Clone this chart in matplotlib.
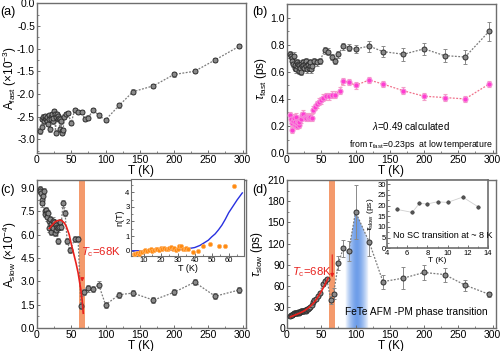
import numpy as np
import matplotlib
matplotlib.use("Agg")
import matplotlib.pyplot as plt
from matplotlib.ticker import AutoMinorLocator, MultipleLocator, FormatStrFormatter
from matplotlib.patches import Polygon

plt.rcParams['font.family'] = ['Liberation Sans', 'DejaVu Sans']
plt.rcParams['mathtext.fontset'] = 'custom'
plt.rcParams['mathtext.rm'] = 'Liberation Sans'
plt.rcParams['mathtext.it'] = 'Liberation Sans:italic'
plt.rcParams['axes.unicode_minus'] = False
plt.rcParams['font.size'] = 7

# ---- (a) fast amplitude
T_a = [5, 7, 8, 9, 10, 11, 12, 13, 14, 15, 16, 17, 18, 19, 20, 21, 22, 23, 24, 25,
       26, 27, 28, 29, 30, 31, 32, 33, 34, 35, 36, 37, 38, 40, 42, 45,
       50, 55, 60, 65, 70, 75, 82, 90, 100, 120, 140, 170, 200, 230, 260, 295]
A_fast = [-2.82, -2.72, -2.55, -2.50, -2.60, -2.52, -2.48, -2.55, -2.60, -2.50,
          -2.65, -2.47, -2.55, -2.78, -2.50, -2.55, -2.45, -2.60, -2.52, -2.38,
          -2.45, -2.85, -2.50, -2.45, -2.55, -2.48, -2.52, -2.78, -2.55, -2.60,
          -2.82, -2.85, -2.80, -2.50, -2.45, -2.42,
          -2.63, -2.35, -2.40, -2.40, -2.55, -2.52, -2.35, -2.47,
          -2.57, -2.25, -1.95, -1.82, -1.57, -1.50, -1.25, -0.95]
A_fast_err = [0.05] * 44 + [0.04, 0.05, 0.05, 0.05, 0.05, 0.04, 0.04, 0.04]

# ---- (b) fast relaxation time
T_b = [5, 6, 7, 8, 9, 10, 11, 12, 13, 14, 15, 16, 17, 18, 19, 20, 21, 22, 23, 24,
       25, 26, 27, 28, 29, 30, 31, 32, 33, 34, 35, 36, 40, 44, 48,
       55, 60, 65, 70, 75, 82, 90, 100, 120, 140, 170, 200, 230, 260, 295]
tau_fast = [0.73, 0.72, 0.70, 0.68, 0.66, 0.72, 0.63, 0.65, 0.62, 0.67,
            0.64, 0.66, 0.61, 0.65, 0.63, 0.66, 0.60, 0.64, 0.67, 0.65,
            0.63, 0.66, 0.64, 0.68, 0.62, 0.66, 0.65, 0.63, 0.64, 0.67,
            0.62, 0.64, 0.68, 0.67, 0.68,
            0.76, 0.75, 0.71, 0.68, 0.73, 0.79, 0.78,
            0.77, 0.79, 0.75, 0.73, 0.77, 0.72, 0.71, 0.90]
tau_fast_err = [0.025] * 42 + [0.03, 0.04, 0.04, 0.05, 0.045, 0.05, 0.05, 0.07]

T_m = [5, 6, 7, 8, 9, 10, 11, 12, 13, 14, 15, 16, 17, 18,
       20, 22, 24, 26, 28, 30, 32, 34, 36,
       38, 41, 44, 47, 50, 53, 57, 61, 65, 70, 77,
       82, 90, 100, 120, 140, 170, 200, 230, 260, 295]
tau_calc = [0.28, 0.25, 0.22, 0.17, 0.24, 0.26, 0.21, 0.23, 0.27, 0.20, 0.22, 0.24, 0.21, 0.23,
            0.25, 0.28, 0.29, 0.27, 0.26, 0.27, 0.26, 0.27, 0.26,
            0.32, 0.34, 0.36, 0.38, 0.39, 0.41, 0.42, 0.42, 0.43, 0.43, 0.46,
            0.53, 0.525, 0.50, 0.54, 0.51, 0.46, 0.42, 0.41, 0.40, 0.51]
tau_calc_err = [0.025] * 44

# ---- (c) slow amplitude
T_c = [4, 5, 6, 7, 8, 9, 10, 11, 12, 13, 14, 15, 16, 17, 18, 19, 20, 21, 22, 23,
       24, 25, 26, 27, 28, 29, 30, 31, 32, 33, 35, 38, 41, 44, 48, 55, 60,
       64, 68, 75, 82, 90, 100, 120, 140, 170, 200, 230, 260, 295]
A_slow = [8.9, 8.8, 8.7, 8.2, 8.0, 8.5, 8.8, 7.5, 7.3, 7.6, 7.4, 7.1, 7.4, 6.9, 6.4,
          7.0, 6.7, 6.2, 6.5, 6.9, 6.4, 6.8, 6.1, 6.6, 6.3, 6.5, 5.6, 6.4, 6.5, 6.8,
          6.5, 8.0, 7.4, 5.6, 5.0, 5.7, 5.7,
          1.4, 2.3, 2.55, 2.5, 2.8, 1.5, 2.15, 2.25, 1.8, 2.3, 2.95, 2.05, 2.45]
A_slow_err = [0.2] * 50

fit_c_T = [18, 22, 26, 30, 35, 40, 43, 47, 50, 54, 57, 60, 62, 64, 66, 67.5]
fit_c_A = [6.4, 6.6, 6.8, 6.9, 6.93, 6.75, 6.5, 6.0, 5.4, 4.7, 4.16, 3.55, 3.0, 2.45, 1.75, 0.96]

# inset (c): n(T)
T_n = [4, 5, 6, 7, 8, 9, 10, 11, 12, 13, 14, 15, 16, 17, 18, 19, 20, 21, 22, 23,
       24, 25, 26, 27, 28, 29, 30, 31, 32, 33, 34, 35, 36, 39, 42, 45, 49, 54, 58, 63]
n_T = [-0.2, -0.2, -0.15, -0.2, -0.1, -0.1, 0.0, 0.05, 0.0, 0.05, 0.1, 0.0, 0.05, 0.1,
       0.15, 0.05, 0.2, 0.1, 0.2, 0.1, 0.15, 0.2, 0.25, 0.1, 0.2, 0.05, 0.15, 0.3, 0.35,
       0.15, 0.15, 0.2, 0.1, -0.1, -0.05, 0.3, 0.45, 0.3, 0.3, 4.45]
fit_n_T = [3, 10, 20, 30, 35, 40, 43, 45, 48, 50, 52, 54, 56, 58, 60, 62, 65, 68]
fit_n = [0.0, 0.0, 0.02, 0.06, 0.12, 0.22, 0.36, 0.5, 0.72, 0.95, 1.15, 1.43, 1.75,
         2.15, 2.6, 2.95, 3.48, 3.95]

# ---- (d) slow relaxation time
T_d = [5, 6, 7, 8, 9, 10, 11, 12, 13, 14, 15, 16, 17, 18, 19, 20, 21, 22, 23, 24,
       25, 26, 27, 28, 29, 30, 32, 34, 36, 38, 40, 42, 45, 48, 52, 55, 58,
       64, 68, 75, 82, 90, 100, 120, 140, 170, 200, 230, 260, 295]
tau_slow = [17, 18, 19, 19, 20, 21, 21, 22, 21, 22, 22, 23, 22, 23, 23, 24, 24, 24, 25, 25,
            24, 26, 25, 26, 27, 27, 28, 30, 33, 37, 40, 42, 46, 50, 63, 67, 70,
            40, 49, 92, 113, 109, 165, 122, 66, 71, 79, 76, 61, 48]
tau_slow_err = [1.5] * 37 + [6, 8, 10, 12, 14, 38, 20, 10, 16, 10, 10, 8, 4]

fit_d_T = [5, 10, 15, 20, 25, 30, 35, 40, 45, 50, 55, 58, 60]
fit_d = [16, 18, 20, 22, 24.5, 28, 32, 37, 44, 52, 61, 67, 71]

# inset (d)
T_low = [5, 6.5, 7.2, 8, 9, 10, 11.5, 13]
tau_low = [18.2, 16.8, 21, 20.8, 21.8, 21.5, 24, 19.5]

tc_band = (62, 70)
afm_band = (85, 119)

FRAME = '#6e6e6e'
GREY_FACE = '#8a8a8a'
GREY_EDGE = '#2e2e2e'
ORANGE_BAND = '#f49a6c'
RED = '#e8211d'


def style(ax, xmaj, ymaj, lw=1.0, size=7.5):
    for s in ax.spines.values():
        s.set_color(FRAME)
        s.set_linewidth(lw)
    ax.xaxis.set_major_locator(MultipleLocator(xmaj))
    ax.yaxis.set_major_locator(MultipleLocator(ymaj))
    ax.xaxis.set_minor_locator(AutoMinorLocator(2))
    ax.yaxis.set_minor_locator(AutoMinorLocator(2))
    ax.tick_params(which='major', direction='in', length=2.5, width=0.7,
                   color=FRAME, labelsize=size, pad=1.5)
    ax.tick_params(which='minor', direction='in', length=1.5, width=0.6, color=FRAME)


def grey_series(ax, x, y, e, ms=3.6):
    ax.errorbar(x, y, yerr=e, fmt='o', ms=ms, mfc=GREY_FACE, mec=GREY_EDGE, mew=0.7,
                ecolor='#8a8a8a', elinewidth=0.7, capsize=1.5, capthick=0.6, zorder=3)
    ax.plot(x, y, ls=(0, (1.5, 1.2)), color='#7a7a7a', lw=0.9, zorder=2)


fig = plt.figure(figsize=(5, 3.51), dpi=100)

ax_a = fig.add_axes([0.074, 0.564, 0.418, 0.427])
ax_b = fig.add_axes([0.574, 0.564, 0.418, 0.424])
ax_c = fig.add_axes([0.074, 0.065, 0.418, 0.422])
ax_d = fig.add_axes([0.574, 0.065, 0.418, 0.422])

# (a)
grey_series(ax_a, T_a, A_fast, A_fast_err)
ax_a.set_xlim(0, 305)
ax_a.set_ylim(-3.3, 0.0)
style(ax_a, 50, 0.5)
ax_a.yaxis.set_major_formatter(FormatStrFormatter('%.1f'))
ax_a.set_xlabel('T (K)', fontsize=8.5, labelpad=0)
ax_a.set_ylabel(r'A$_{\rm fast}$ (×10$^{-3}$)', fontsize=8.5)
ax_a.yaxis.set_label_coords(-0.088, 0.5)

# (b)
ax_b.errorbar(T_m, tau_calc, yerr=tau_calc_err, fmt='o', ms=3.6, mfc='#ff3cd2',
              mec='#f78ad8', mew=0.8, ecolor='#f3a0c8', elinewidth=0.7, capsize=1.5,
              capthick=0.6, zorder=3)
ax_b.plot(T_m, tau_calc, ls=(0, (1.5, 1.2)), color='#f0708a', lw=0.9, zorder=2)
grey_series(ax_b, T_b, tau_fast, tau_fast_err)
ax_b.set_xlim(0, 305)
ax_b.set_ylim(0, 1.1)
style(ax_b, 50, 0.2)
ax_b.yaxis.set_major_formatter(FormatStrFormatter('%.1f'))
ax_b.set_xlabel('T (K)', fontsize=8.5, labelpad=0)
ax_b.set_ylabel(r'$\tau_{\rm fast}$ (ps)', fontsize=8.5)
ax_b.yaxis.set_label_coords(-0.088, 0.5)
ax_b.text(124, 0.20, r'$\lambda$=0.49 calculated', fontsize=7, va='center')
ax_b.text(300, 0.06, r'from $\tau_{\rm fast}$=0.23ps  at low temperature', fontsize=6.3,
          va='center', ha='right')

# (c)
ax_c.axvspan(*tc_band, color=ORANGE_BAND, lw=0, zorder=1)
grey_series(ax_c, T_c, A_slow, A_slow_err)
ax_c.plot(fit_c_T, fit_c_A, color=RED, lw=1.2, zorder=4)
ax_c.annotate('', xy=(66, 2.8), xytext=(66, 3.4),
              arrowprops=dict(arrowstyle='-|>', color=RED, lw=0.8, mutation_scale=5))
ax_c.text(64, 4.9, r'$T_{\rm c}$=68K', color=RED, fontsize=8.2, va='center')
ax_c.set_xlim(0, 305)
ax_c.set_ylim(0, 9.5)
style(ax_c, 50, 1.5)
ax_c.yaxis.set_major_formatter(FormatStrFormatter('%.1f'))
ax_c.set_xlabel('T (K)', fontsize=8.5, labelpad=0)
ax_c.set_ylabel(r'A$_{\rm slow}$ (×10$^{-4}$)', fontsize=8.5)
ax_c.yaxis.set_label_coords(-0.088, 0.5)

ins_c = fig.add_axes([0.262, 0.271, 0.226, 0.219])
ins_c.plot(fit_n_T, fit_n, color='#2830e0', lw=1.0, zorder=2)
ins_c.plot(T_n, n_T, 'o', ms=3.0, mfc='#ff8a10', mec='#ffb060', mew=0.5, zorder=3)
ins_c.set_xlim(2.5, 69)
ins_c.set_ylim(-0.35, 4.9)
style(ins_c, 10, 1, lw=0.8, size=5.5)
ins_c.tick_params(which='major', pad=1)
ins_c.set_xlabel('T (K)', fontsize=6.5, labelpad=0)
ins_c.set_ylabel('n(T)', fontsize=6.5, labelpad=1)

# (d)
ax_d.axvspan(*tc_band, color=ORANGE_BAND, lw=0, zorder=1)
xs = np.linspace(afm_band[0], afm_band[1], 200)
mid = 0.5 * (afm_band[0] + afm_band[1])
prof = np.clip(1 - (np.abs(xs - mid) / (0.5 * (afm_band[1] - afm_band[0]))) ** 1.6, 0, 1)
img = np.zeros((1, xs.size, 4))
img[..., 0] = 0.33
img[..., 1] = 0.55
img[..., 2] = 0.90
img[..., 3] = 0.85 * prof
top_l = np.interp(afm_band[0], T_d, tau_slow)
top_r = np.interp(afm_band[1], T_d, tau_slow)
inside = [(t, v) for t, v in zip(T_d, tau_slow) if afm_band[0] < t < afm_band[1]]
poly = Polygon([(afm_band[0], 0), (afm_band[0], top_l)] + inside +
               [(afm_band[1], top_r), (afm_band[1], 0)], closed=True,
               transform=ax_d.transData, facecolor='none', edgecolor='none')
ax_d.add_patch(poly)
im = ax_d.imshow(img, extent=[afm_band[0], afm_band[1], 0, 170], aspect='auto',
                 zorder=1, interpolation='bilinear')
im.set_clip_path(poly)
grey_series(ax_d, T_d, tau_slow, tau_slow_err)
ax_d.plot(fit_d_T, fit_d, color=RED, lw=1.2, zorder=4)
ax_d.annotate('', xy=(66, 68), xytext=(66, 108),
              arrowprops=dict(arrowstyle='-|>', color=RED, lw=0.8, mutation_scale=5))
ax_d.text(8, 80, r'$T_{\rm c}$=68K', color=RED, fontsize=8.2, va='center')
ax_d.text(84, 23, 'FeTe AFM -PM phase transition', fontsize=7.3, va='center')
ax_d.set_xlim(0, 305)
ax_d.set_ylim(0, 210)
style(ax_d, 50, 30)
ax_d.set_xlabel('T (K)', fontsize=8.5, labelpad=0)
ax_d.set_ylabel(r'$\tau_{\rm slow}$ (ps)', fontsize=8.5)
ax_d.yaxis.set_label_coords(-0.105, 0.5)

ins_d = fig.add_axes([0.774, 0.293, 0.202, 0.194])
ins_d.plot(T_low, tau_low, color='#d0d0d0', lw=0.6, zorder=2)
ins_d.plot(T_low, tau_low, 'o', ms=2.5, mfc='#555555', mec='#333333', mew=0.4, zorder=3)
ins_d.text(4.6, 6, 'No SC transition at ~ 8 K', fontsize=6.5, va='center')
ins_d.set_xlim(4, 14)
ins_d.set_ylim(0, 32)
style(ins_d, 2, 5, lw=1.2, size=5.5)
ins_d.tick_params(which='major', pad=1)
ins_d.set_xlabel('T (K)', fontsize=6, labelpad=0)
ins_d.set_ylabel(r'$\tau_{\rm slow}$ (ps)', fontsize=6, labelpad=1)

for lab, x, y in [('(a)', 0.0, 0.966), ('(b)', 0.504, 0.966),
                  ('(c)', 0.0, 0.459), ('(d)', 0.504, 0.459)]:
    fig.text(x, y, lab, fontsize=9, va='center')

fig.savefig('out.png', dpi=100)
